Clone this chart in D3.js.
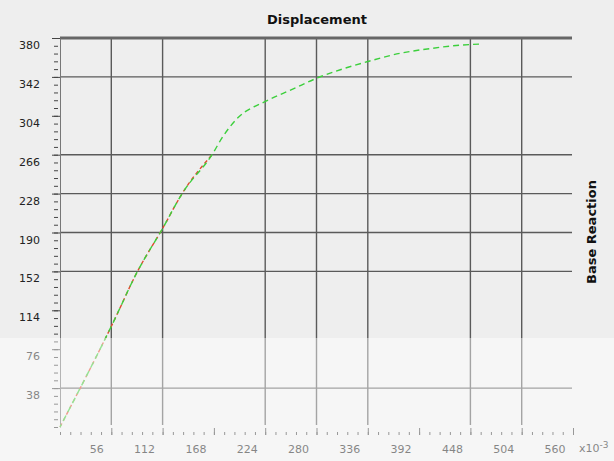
<!DOCTYPE html>
<html>
<head>
<meta charset="utf-8">
<script src="https://cdn.jsdelivr.net/npm/d3@7/dist/d3.min.js"></script>
<style>
  html, body { margin: 0; padding: 0; background: #efefef; }
  svg { display: block; }
</style>
</head>
<body>
<svg id="chart" width="614" height="461"></svg>
<script>
// ---- data ----
const dispX = [0, 58, 84, 112, 134, 166, 178, 193, 224, 254, 281, 306, 336, 371, 407, 437, 458];
const reactY = [0, 102, 151, 194, 229, 266, 284, 301, 318, 330, 341, 349, 357, 365, 370, 373, 374];
const redCount = 6; // first segment drawn in red
const xTickValues = [56, 112, 168, 224, 280, 336, 392, 448, 504, 560];
const yTickValues = [38, 76, 114, 152, 190, 228, 266, 304, 342, 380];
const xGridValues = [56, 112, 224, 280, 336, 448, 504];
const yGridValues = [38, 152, 190, 228, 266, 342];
const titleText = "Displacement";
const yTitleText = "Base Reaction";

(function () {
const svg = d3.select("#chart");
const W = 614, H = 461;
const mLeft = 60, mRight = 573, mTop = 38, mBottom = 427;
const x = d3.scaleLinear().domain([0, 560]).range([mLeft, mRight]);
const y = d3.scaleLinear().domain([0, 380]).range([mBottom, mTop]);
const font = "'DejaVu Sans', Verdana, sans-serif";

svg.append("rect").attr("width", W).attr("height", H).attr("fill", "#eeeeee");

// grid
svg.append("g").selectAll("line").data(xGridValues).join("line")
  .attr("x1", d => x(d)).attr("x2", d => x(d))
  .attr("y1", mTop).attr("y2", mBottom - 2)
  .attr("stroke", "#5a5a5a").attr("stroke-width", 1.4);
svg.append("g").selectAll("line").data(yGridValues).join("line")
  .attr("x1", mLeft).attr("x2", mRight - 1)
  .attr("y1", d => y(d)).attr("y2", d => y(d))
  .attr("stroke", "#5a5a5a").attr("stroke-width", 1.4);
// top heavy border
svg.append("line").attr("x1", mLeft).attr("x2", mRight - 1)
  .attr("y1", y(380)).attr("y2", y(380))
  .attr("stroke", "#666").attr("stroke-width", 3);

// y axis: minor ticks
const yMinor = d3.range(0, 381, 7.6);
svg.append("g").attr("transform", `translate(${mLeft - 2},0)`)
  .call(d3.axisLeft(y).tickValues(yMinor).tickSize(4).tickFormat(""))
  .call(g => g.select(".domain").remove())
  .call(g => g.selectAll("line").attr("stroke", "#444"));
// y axis: major
const yAx = svg.append("g").attr("transform", `translate(${mLeft},0)`)
  .call(d3.axisLeft(y).tickValues(yTickValues).tickSize(8).tickPadding(12).tickSizeOuter(0)
    .tickFormat(d => d));
yAx.select(".domain").attr("stroke", "#777");
yAx.selectAll(".tick line").attr("stroke", "#444");
yAx.selectAll("text").attr("font-family", font).attr("font-size", 11)
  .attr("fill", "#222").attr("transform", "translate(0,7)");

// x axis: minor ticks
const xMinor = d3.range(0, 561, 11.2);
svg.append("g").attr("transform", `translate(0,${mBottom + 5})`)
  .call(d3.axisBottom(x).tickValues(xMinor).tickSize(3).tickFormat(""))
  .call(g => g.select(".domain").remove())
  .call(g => g.selectAll("line").attr("stroke", "#444"));
// x axis: major
const xAx = svg.append("g").attr("transform", `translate(0,${mBottom + 1})`)
  .call(d3.axisBottom(x).tickValues(xTickValues).tickSize(7).tickPadding(10).tickFormat(d => d));
xAx.select(".domain").remove();
xAx.selectAll(".tick line").attr("stroke", "#444");
xAx.selectAll("text").attr("font-family", font).attr("font-size", 11)
  .attr("fill", "#222").attr("text-anchor", "end").attr("dx", -8);

// x10^-3 multiplier
const mult = svg.append("text").attr("x", x(560) + 6).attr("y", mBottom + 25)
  .attr("font-family", font).attr("font-size", 11).attr("fill", "#222");
mult.append("tspan").text("x10");
mult.append("tspan").attr("dy", -4).attr("font-size", 9).text("-3");

// curves
const pts = dispX.map((d, i) => [d, reactY[i]]);
const line = d3.line().x(d => x(d[0])).y(d => y(d[1])).curve(d3.curveMonotoneX);
svg.append("path").attr("d", line(pts.slice(0, redCount)))
  .attr("fill", "none").attr("stroke", "#e04a30").attr("stroke-width", 1.4)
  .attr("stroke-dasharray", "4,3");
svg.append("path").attr("d", line(pts))
  .attr("fill", "none").attr("stroke", "#3ccf3c").attr("stroke-width", 1.4)
  .attr("stroke-dasharray", "6,4").attr("stroke-dashoffset", 3);

// titles
svg.append("text").attr("x", 317).attr("y", 24).attr("text-anchor", "middle")
  .attr("font-family", font).attr("font-weight", "bold").attr("font-size", 13)
  .attr("fill", "#111").text(titleText);
svg.append("text").attr("transform", "translate(596,232) rotate(-90)")
  .attr("text-anchor", "middle")
  .attr("font-family", font).attr("font-weight", "bold").attr("font-size", 13)
  .attr("fill", "#111").text(yTitleText);

// lighter lower band as seen in the reference picture
svg.append("rect").attr("x", 0).attr("y", 338).attr("width", W).attr("height", H - 338)
  .attr("fill", "#ffffff").attr("opacity", 0.45);
})();
</script>
</body>
</html>
